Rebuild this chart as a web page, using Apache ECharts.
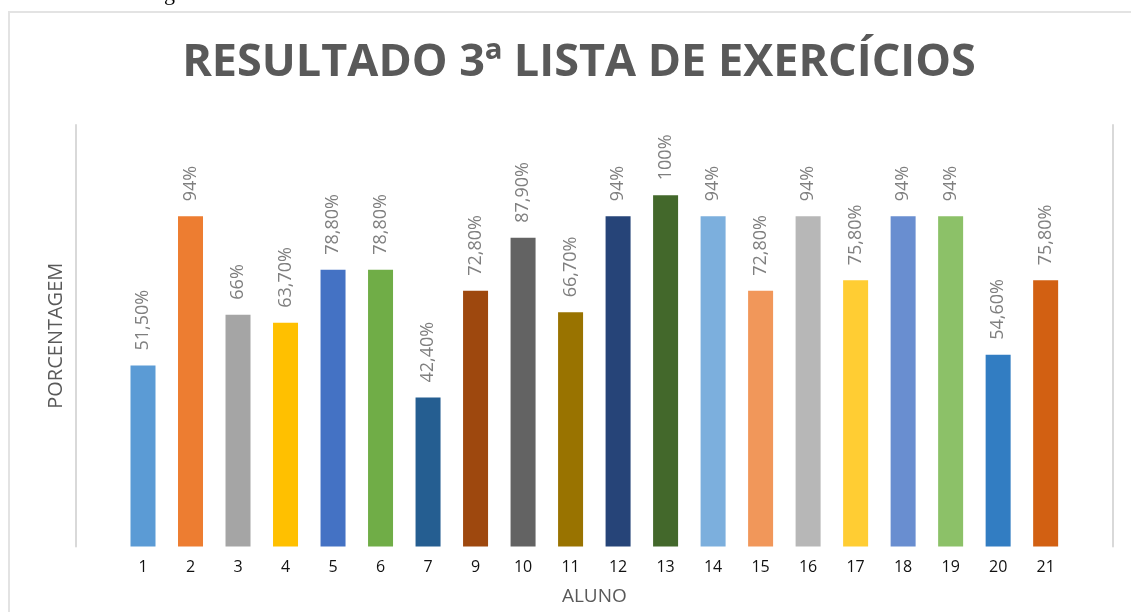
<!DOCTYPE html>
<html>
<head>
<meta charset="utf-8">
<script src="https://cdn.jsdelivr.net/npm/echarts@6/dist/echarts.min.js"></script>
<style>
  html, body { margin: 0; padding: 0; background: #ffffff; }
  #chart { width: 1131px; height: 612px; }
</style>
</head>
<body>
<div id="chart"></div>
<script>
// Students (aluno 8 is absent from the list)
const alunos = ['1', '2', '3', '4', '5', '6', '7', '9', '10', '11', '12', '13', '14', '15', '16', '17', '18', '19', '20', '21'];

// Score of each student, in percent
const porcentagens = [51.5, 94, 66, 63.7, 78.8, 78.8, 42.4, 72.8, 87.9, 66.7, 94, 100, 94, 72.8, 94, 75.8, 94, 94, 54.6, 75.8];

// One colour per bar (Office palette order)
const cores = ['#5b9bd5', '#ed7d31', '#a5a5a5', '#ffc000', '#4472c4', '#70ad47', '#255e91', '#9e480e', '#636363', '#997300',
               '#264478', '#43682b', '#7cafdd', '#f1975a', '#b7b7b7', '#ffcd33', '#698ed0', '#8cc168', '#327dc2', '#d26012'];

// Value label in Brazilian format: "94%" or "51,50%"
function rotulo(v) {
  return Number.isInteger(v) ? v + '%' : v.toFixed(2).replace('.', ',') + '%';
}

const chart = echarts.init(document.getElementById('chart'), null, { renderer: 'canvas' });

const frameColor = '#d9d9d9';

chart.setOption({
  backgroundColor: '#ffffff',
  animation: false,
  title: {
    text: 'RESULTADO 3ª LISTA DE EXERCÍCIOS',
    left: 574,
    textAlign: 'center',
    top: 36,
    textStyle: {
      fontFamily: 'Open Sans',
      fontWeight: 'bold',
      fontSize: 45,
      color: '#595959'
    }
  },
  graphic: [
    {
      type: 'rect',
      shape: { x: 9, y: 12, width: 1140, height: 620 },
      style: { fill: 'none', stroke: '#e3e3e3', lineWidth: 2 },
      silent: true
    },
    {
      type: 'text',
      left: 164,
      top: -17,
      style: { text: 'g', fontFamily: 'Liberation Serif', fontSize: 22, fill: '#000000' },
      silent: true
    }
  ],
  grid: {
    left: 119.25,
    right: 61.6,
    top: 125,
    bottom: 65.5,
    containLabel: false
  },
  xAxis: {
    type: 'category',
    data: alunos,
    name: 'ALUNO',
    nameLocation: 'middle',
    nameGap: 41,
    nameTextStyle: { fontFamily: 'Open Sans', fontSize: 19, color: '#595959' },
    axisLine: { show: false },
    axisTick: { show: false },
    axisLabel: {
      margin: 13,
      fontFamily: 'Open Sans',
      fontSize: 16,
      color: '#111111'
    }
  },
  yAxis: [
    {
      type: 'value',
      min: 0,
      max: 120,
      interval: 20,
      position: 'left',
      offset: 44,
      name: 'PORCENTAGEM',
      nameLocation: 'middle',
      nameRotate: 90,
      nameGap: 9,
      nameTextStyle: { fontFamily: 'Open Sans', fontSize: 20, color: '#595959' },
      axisLine: { show: true, lineStyle: { color: frameColor, width: 2 } },
      axisTick: { show: false },
      axisLabel: { show: false },
      splitLine: { show: false }
    },
    {
      type: 'value',
      min: 0,
      max: 120,
      interval: 20,
      position: 'right',
      offset: 43.6,
      axisLine: { show: true, lineStyle: { color: frameColor, width: 2 } },
      axisTick: { show: false },
      axisLabel: { show: false },
      splitLine: { show: false }
    }
  ],
  series: [
    {
      type: 'bar',
      yAxisIndex: 0,
      barWidth: 25,
      data: porcentagens.map((v, i) => ({ value: v, itemStyle: { color: cores[i] } })),
      label: {
        show: true,
        position: 'top',
        rotate: 90,
        distance: 15,
        align: 'left',
        verticalAlign: 'middle',
        fontFamily: 'Open Sans',
        fontSize: 18,
        color: '#7f7f7f',
        formatter: p => rotulo(p.value)
      }
    }
  ]
});
</script>
</body>
</html>
